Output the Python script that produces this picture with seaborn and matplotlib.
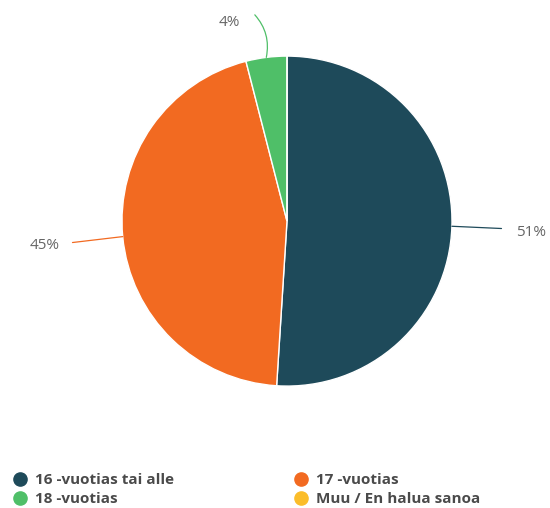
import matplotlib
matplotlib.use("Agg")
import matplotlib.pyplot as plt
from matplotlib.lines import Line2D
import numpy as np
import seaborn as sns

categories = ["16 -vuotias tai alle", "17 -vuotias", "18 -vuotias", "Muu / En halua sanoa"]
shares = [51, 45, 4, 0]
colors = ["#1e4a5a", "#f26a21", "#4fbf68", "#fbbd2a"]

# label anchor points (pie units) for the leader lines and texts
line_ends = {0: (1.30, -0.045), 1: (-1.30, -0.13), 2: (-0.195, 1.25)}
text_pos = {0: (1.48, -0.07), 1: (-1.47, -0.145), 2: (-0.35, 1.205)}

sns.set_theme(style="white")
plt.rcParams["font.family"] = ["Open Sans", "DejaVu Sans"]

W, H = 550, 508
fig = plt.figure(figsize=(W / 100, H / 100), dpi=100)
ax = fig.add_axes([0.2218, 0.240, 0.6, 0.6496])

wedges, _ = ax.pie(shares, colors=colors, startangle=90, counterclock=False,
                   wedgeprops=dict(edgecolor="white", linewidth=1.0))
ax.set_xlim(-1, 1)
ax.set_ylim(-1, 1)
ax.set_aspect("equal")
ax.axis("off")

for i, w in enumerate(wedges):
    if shares[i] == 0:
        continue
    mid = np.deg2rad((w.theta1 + w.theta2) / 2)
    edge = (np.cos(mid), np.sin(mid))
    rad = -0.25 if i == 2 else 0.0
    ax.annotate("", xy=edge, xytext=line_ends[i],
                arrowprops=dict(arrowstyle="-", color=colors[i], lw=0.9,
                                shrinkA=0, shrinkB=0,
                                connectionstyle=f"arc3,rad={rad}"),
                annotation_clip=False)
    ax.text(*text_pos[i], f"{shares[i]}%", ha="center", va="center",
            fontsize=11, color="#666666", clip_on=False)

# two legend columns, each placed on its own
leg_font = dict(family="Open Sans", weight="bold", size=11)
columns = [([0, 2], 12.4), ([1, 3], 293.4)]
for idx, x_px in columns:
    handles = [Line2D([0], [0], marker="o", linestyle="", markersize=9.5,
                      markerfacecolor=colors[k], markeredgecolor=colors[k]) for k in idx]
    leg = fig.legend(handles, [categories[k] for k in idx], loc="upper left",
                     bbox_to_anchor=(x_px / W, 1 - 473 / H), frameon=False,
                     prop=leg_font, labelcolor="#4a4a4a", handletextpad=0.48,
                     labelspacing=0.35, handlelength=1.0, borderaxespad=0,
                     borderpad=0)

fig.savefig("out.png", dpi=100, facecolor="white")
